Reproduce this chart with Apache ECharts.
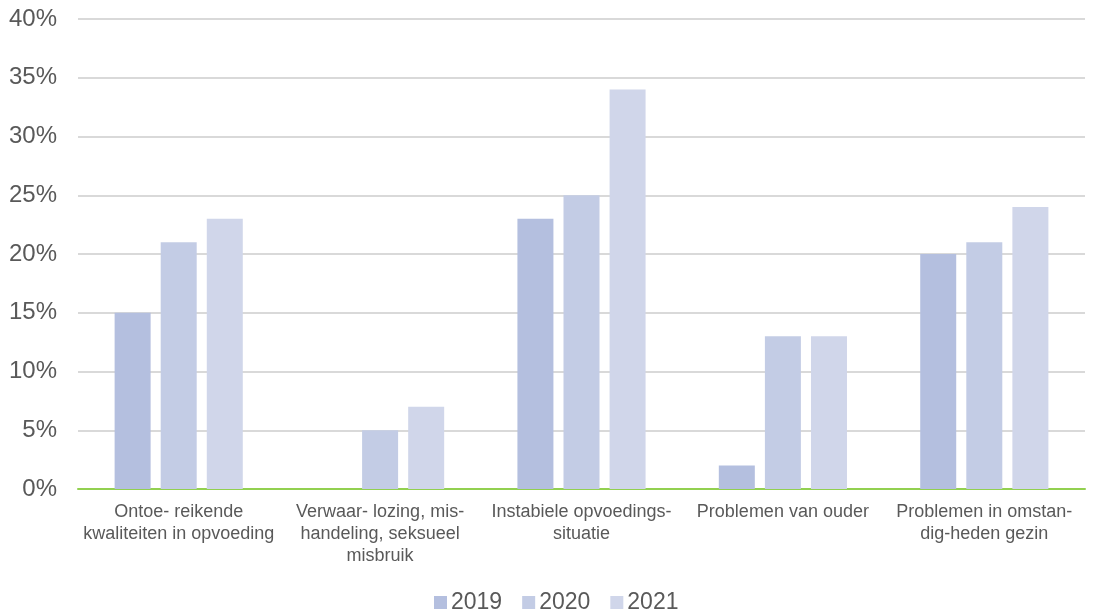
<!DOCTYPE html>
<html>
<head>
<meta charset="utf-8">
<script src="https://cdn.jsdelivr.net/npm/echarts@6/dist/echarts.min.js"></script>
<style>html,body{margin:0;padding:0;background:#fff}#c{width:1093px;height:614px}</style>
</head>
<body>
<div id="c"></div>
<script>
const categories = [
  "Ontoe- reikende\nkwaliteiten in opvoeding",
  "Verwaar- lozing, mis-\nhandeling, seksueel\nmisbruik",
  "Instabiele opvoedings-\nsituatie",
  "Problemen van ouder",
  "Problemen in omstan-\ndig-heden gezin"
];
const seriesNames = ["2019", "2020", "2021"];
const values2019 = [15, 0, 23, 2, 20];
const values2020 = [21, 5, 25, 13, 21];
const values2021 = [23, 7, 34, 13, 24];
const yTicks = [0, 5, 10, 15, 20, 25, 30, 35, 40];

const colors = ["#b4bfdf", "#c3cce5", "#d0d6ea"];
const font = "Liberation Sans, Arial, sans-serif";
const chart = echarts.init(document.getElementById('c'));
const data = [values2019, values2020, values2021];
chart.setOption({
  animation: false,
  grid: { left: 78, right: 8, top: 19, bottom: 125 },
  legend: {
    top: 591, left: 434, padding: 0, itemWidth: 13, itemHeight: 13, itemGap: 20,
    icon: 'rect',
    textStyle: { color: '#595959', fontSize: 23, fontFamily: font, padding: [0, 0, 0, -1] },
    data: seriesNames
  },
  xAxis: {
    type: 'category', data: categories,
    axisLine: { lineStyle: { color: '#92d050', width: 2 } },
    axisTick: { show: false },
    axisLabel: { color: '#595959', fontSize: 18, fontFamily: font, lineHeight: 22, margin: 12, interval: 0 }
  },
  yAxis: {
    type: 'value', min: yTicks[0], max: yTicks[yTicks.length - 1], interval: 5,
    axisLine: { show: false }, axisTick: { show: false },
    splitLine: { lineStyle: { color: '#d9d9d9', width: 2 } },
    axisLabel: { color: '#595959', fontSize: 24, fontFamily: font, margin: 21, formatter: v => v + '%' }
  },
  series: seriesNames.map((n, i) => ({
    name: n, type: 'bar', data: data[i],
    barWidth: 36, barGap: '28%',
    itemStyle: { color: colors[i] }
  }))
});
</script>
</body>
</html>
